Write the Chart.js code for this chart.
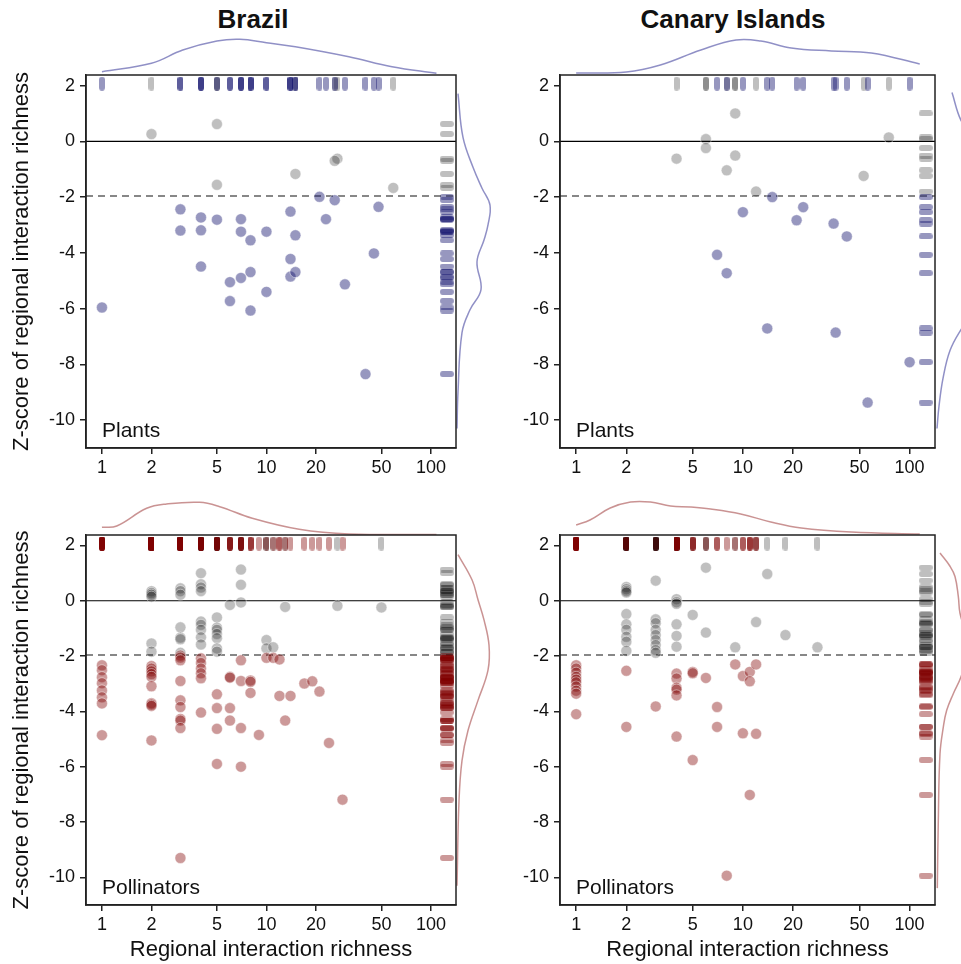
<!DOCTYPE html>
<html>
<head>
<meta charset="utf-8">
<script src="https://cdn.jsdelivr.net/npm/chart.js@4.4.0/dist/chart.umd.min.js"></script>
<style>
  html, body { margin: 0; padding: 0; background: #fff; overflow: hidden; }
  body { width: 961px; height: 964px; position: relative; font-family: "Liberation Sans", Arial, sans-serif; }
  canvas { position: absolute; }
  .title { position: absolute; top: 4px; font-weight: bold; font-size: 26px; color: #111; transform: translateX(-50%); white-space: nowrap; }
</style>
</head>
<body>
<div class="title" style="left:253px">Brazil</div>
<div class="title" style="left:733px">Canary Islands</div>
<script>
// ticks
const X_TICKS = [1, 2, 5, 10, 20, 50, 100];
const Y_TICKS = [2, 0, -2, -4, -6, -8, -10];
const Z_CRIT = -1.96;

// Brazil - plants
const brPlantRich = [2, 5, 27, 26, 15, 5, 59,
  21, 26, 48, 3, 4, 5, 7, 14, 23, 3, 4, 7, 10, 8, 15, 45, 14, 4, 8, 7, 6, 14, 15, 30, 10, 6, 8, 1, 40];
const brPlantZ = [0.26, 0.62, -0.62, -0.70, -1.17, -1.56, -1.67,
  -1.99, -2.11, -2.35, -2.44, -2.73, -2.81, -2.79, -2.52, -2.79, -3.2, -3.19, -3.24, -3.24, -3.55, -3.37, -4.02, -4.22,
  -4.49, -4.69, -4.9, -5.05, -4.85, -4.69, -5.13, -5.4, -5.73, -6.07, -5.96, -8.35];

// Canary Islands - plants
const ciPlantRich = [9, 6, 6, 4, 9, 8, 53, 75, 12,
  15, 23, 10, 21, 35, 42, 7, 8, 14, 36, 100, 56];
const ciPlantZ = [1.0, 0.08, -0.24, -0.62, -0.51, -1.04, -1.24, 0.14, -1.8,
  -2.0, -2.36, -2.54, -2.83, -2.95, -3.41, -4.07, -4.73, -6.71, -6.86, -7.92, -9.37];

// Brazil - pollinators
const brPollRich = [
  2, 2, 2, 2, 2, 2,
  3, 3, 3, 3, 3, 3, 3,
  4, 4, 4, 4, 4, 4, 4, 4, 4,
  5, 5, 5, 5, 5, 5, 5,
  6, 7, 7, 7, 10, 10, 11, 13, 27, 50,
  1, 1, 1, 1, 1, 1, 1, 1,
  2, 2, 2, 2, 2, 2, 2, 2, 2, 2,
  3, 3, 3, 3, 3, 3, 3, 3, 3, 3,
  4, 4, 4, 4, 4, 4,
  5, 5, 5, 5,
  6, 6, 6, 6,
  7, 7, 7, 7,
  8, 8, 8, 9, 10, 11, 12, 12, 13, 14, 17, 19, 21, 24, 29];
const brPollZ = [
  0.35, 0.28, 0.22, 0.15, -1.54, -1.84,
  0.45, 0.35, 0.22, -0.96, -1.33, -1.39, -1.88,
  1.0, 0.6, 0.48, 0.35, -0.75, -0.87, -1.05, -1.32, -1.58,
  -0.6, -0.97, -1.05, -1.2, -1.35, -1.72, -1.84,
  -0.15, 1.13, 0.58, -0.06, -1.42, -1.72, -1.68, -0.22, -0.18, -0.24,
  -2.33, -2.51, -2.76, -2.98, -3.24, -3.49, -3.71, -4.86,
  -2.36, -2.45, -2.55, -2.65, -2.75, -3.09, -3.7, -3.75, -3.8, -5.05,
  -1.98, -2.05, -2.15, -2.9, -3.6, -3.84, -4.27, -4.33, -4.6, -9.3,
  -2.08, -2.25, -2.45, -2.62, -2.8, -4.04,
  -3.38, -3.88, -4.63, -5.9,
  -2.75, -2.78, -3.88, -4.33,
  -2.15, -2.9, -4.6, -6.0,
  -2.88, -2.93, -3.33, -4.85, -2.06, -2.06, -2.12, -3.44, -4.33, -3.44, -2.99, -2.91, -3.28, -5.14, -7.19];

// Canary Islands - pollinators
const ciPollRich = [
  2, 2, 2, 2, 2, 2, 2, 2, 2, 2,
  3, 3, 3, 3, 3, 3, 3, 3, 3,
  4, 4, 4, 4, 4, 4,
  5, 6, 6, 9, 12, 14, 18, 28,
  1, 1, 1, 1, 1, 1, 1, 1, 1, 1,
  2, 2, 3,
  4, 4, 4, 4, 4, 4,
  5, 5, 5, 6, 7, 7, 8, 9, 10, 10, 11, 11, 11, 12, 12];
const ciPollZ = [
  0.5, 0.42, 0.35, 0.3, -0.48, -0.85, -1.05, -1.3, -1.48, -1.81,
  0.73, -0.67, -0.81, -1.05, -1.24, -1.42, -1.6, -1.78, -1.88,
  0.06, -0.05, -0.11, -0.85, -1.27, -1.66,
  -0.51, 1.2, -1.15, -1.68, -0.77, 0.97, -1.24, -1.68,
  -2.33, -2.45, -2.6, -2.75, -2.85, -2.95, -3.1, -3.25, -3.36, -4.1,
  -2.53, -4.56, -3.82,
  -2.63, -2.81, -3.14, -3.21, -3.42, -4.91,
  -2.57, -2.62, -5.76, -2.79, -3.84, -4.56, -9.94, -2.3, -2.72, -4.79, -2.57, -2.91, -7.02, -2.3, -4.81];

// marginal densities
const brPlantTopX = [1, 2, 3.1, 5, 6.9, 10, 15, 31.7, 58, 108];
const brPlantTopD = [0.033, 0.117, 0.25, 0.34, 0.357, 0.323, 0.283, 0.183, 0.083, 0.017];
const brPlantSideZ = [1.71, 0.14, -0.93, -1.68, -2.29, -3.0, -3.54, -4.32, -5.32, -6.04, -6.86, -9.0, -10.3];
const brPlantSideD = [0.02, 0.07, 0.17, 0.26, 0.34, 0.32, 0.28, 0.21, 0.25, 0.14, 0.06, 0.02, 0.01];

const ciPlantTopX = [1, 2, 3.2, 5.6, 9.1, 12.8, 19.5, 33.9, 58.9, 115];
const ciPlantTopD = [0.02, 0.03, 0.10, 0.25, 0.35, 0.34, 0.27, 0.24, 0.22, 0.11];
const ciPlantSideZ = [1.75, 0.75, 0, -2, -4, -6, -6.75, -7.5, -8.5, -9.5, -10.3];
const ciPlantSideD = [0.17, 0.26, 0.40, 0.55, 0.50, 0.40, 0.26, 0.15, 0.08, 0.04, 0.02];

const brPollTopX = [1, 1.23, 1.87, 2.47, 3.93, 5.2, 8.2, 15.8, 31.8, 108];
const brPollTopD = [0.077, 0.09, 0.267, 0.31, 0.327, 0.283, 0.167, 0.057, 0.01, 0.005];
const brPollSideZ = [1.67, 0.76, 0.04, -0.69, -1.6, -2.51, -3.6, -4.69, -5.78, -7.24, -10.3];
const brPollSideD = [0.02, 0.16, 0.22, 0.28, 0.33, 0.32, 0.22, 0.12, 0.06, 0.03, 0.01];

const ciPollTopX = [1, 1.21, 1.6, 2.12, 2.79, 3.68, 4.86, 6.4, 9.7, 14.7, 22.4, 44.8, 115];
const ciPollTopD = [0.10, 0.15, 0.27, 0.33, 0.33, 0.29, 0.28, 0.26, 0.21, 0.13, 0.07, 0.03, 0.01];
const ciPollSideZ = [1.73, 1.25, 0.88, 0.16, -0.45, -1.7, -2.75, -3.36, -3.96, -4.57, -5.53, -7.96, -10.39];
const ciPollSideD = [0.05, 0.15, 0.20, 0.233, 0.25, 0.34, 0.26, 0.183, 0.117, 0.083, 0.05, 0.033, 0.023];

Chart.defaults.font.family = "'Liberation Sans', Arial, Helvetica, sans-serif";
Chart.defaults.color = '#111';

const X_MIN = 0.8, X_MAX = 142;
const Y_MIN = -11, Y_MAX = 2.38;
const RUG_TOP = 2.07, RUG_RIGHT = 125;

const COL = {
  plants: 'rgba(25,25,112,0.45)',
  poll: 'rgba(128,0,0,0.4)',
  ns: 'rgba(0,0,0,0.25)',
  plantsLine: 'rgba(70,70,160,0.6)',
  pollLine: 'rgba(150,40,40,0.5)'
};

const panels = [
  { id: 'brPlants', rich: brPlantRich, z: brPlantZ, col: COL.plants, line: COL.plantsLine, label: 'Plants',
    frame: {l: 86, t: 75, r: 456, b: 448}, box: {x: 0, y: 70, w: 462, h: 410}, yTitle: true, xTitle: false,
    topX: brPlantTopX, topD: brPlantTopD, sideZ: brPlantSideZ, sideD: brPlantSideD },
  { id: 'ciPlants', rich: ciPlantRich, z: ciPlantZ, col: COL.plants, line: COL.plantsLine, label: 'Plants',
    frame: {l: 560, t: 75, r: 935, b: 448}, box: {x: 500, y: 70, w: 441, h: 410}, yTitle: false, xTitle: false,
    topX: ciPlantTopX, topD: ciPlantTopD, sideZ: ciPlantSideZ, sideD: ciPlantSideD },
  { id: 'brPoll', rich: brPollRich, z: brPollZ, col: COL.poll, line: COL.pollLine, label: 'Pollinators',
    frame: {l: 86, t: 535, r: 456, b: 905}, box: {x: 0, y: 530, w: 462, h: 434}, yTitle: true, xTitle: true,
    topX: brPollTopX, topD: brPollTopD, sideZ: brPollSideZ, sideD: brPollSideD },
  { id: 'ciPoll', rich: ciPollRich, z: ciPollZ, col: COL.poll, line: COL.pollLine, label: 'Pollinators',
    frame: {l: 560, t: 535, r: 935, b: 905}, box: {x: 500, y: 530, w: 441, h: 434}, yTitle: false, xTitle: true,
    topX: ciPollTopX, topD: ciPollTopD, sideZ: ciPollSideZ, sideD: ciPollSideD }
];

function addCanvas(id, x, y, w, h) {
  const c = document.createElement('canvas');
  c.id = id; c.width = w; c.height = h;
  c.style.left = x + 'px'; c.style.top = y + 'px';
  c.style.width = w + 'px'; c.style.height = h + 'px';
  document.body.appendChild(c);
  return c;
}

// rounded rug tick used as a point style (drawn vertical, rotated by Chart.js)
function capsule(color) {
  const c = document.createElement('canvas');
  c.width = 6; c.height = 14;
  const g = c.getContext('2d');
  g.fillStyle = color;
  g.beginPath();
  g.roundRect(0, 0, 6, 14, 3);
  g.fill();
  return c;
}

// box around the plot + panel name
const framePlugin = {
  id: 'frame',
  afterDraw(chart, args, opts) {
    const {ctx, chartArea: a} = chart;
    ctx.save();
    ctx.strokeStyle = '#222';
    ctx.lineWidth = 1.5;
    ctx.strokeRect(a.left, a.top, a.right - a.left, a.bottom - a.top);
    ctx.font = "21px 'Liberation Sans', Arial, sans-serif";
    ctx.fillStyle = '#111';
    ctx.fillText(opts.text, a.left + 16, a.bottom - 11);
    ctx.restore();
  }
};

function makeScatter(p) {
  const cv = addCanvas(p.id, p.box.x, p.box.y, p.box.w, p.box.h);
  const pts = p.rich.map((x, i) => ({x: x, y: p.z[i]}));
  const sig = pts.filter(d => d.y < Z_CRIT);
  const ns = pts.filter(d => d.y >= Z_CRIT);
  const rug = (arr, col, top) => ({
    data: arr.map(d => top ? {x: d.x, y: RUG_TOP} : {x: RUG_RIGHT, y: d.y}),
    pointStyle: capsule(col), pointRotation: top ? 0 : 90,
    pointRadius: 7, borderColor: col, backgroundColor: col
  });
  const dot = (arr, col) => ({
    data: arr, pointRadius: 5.5, pointBorderWidth: 0.8,
    backgroundColor: col, borderColor: 'rgba(255,255,255,0.55)'
  });
  const hline = (y, dash) => ({
    data: [{x: X_MIN, y: y}, {x: X_MAX, y: y}], showLine: true, pointRadius: 0,
    borderColor: dash ? '#111' : '#000', borderWidth: 1.1, borderDash: dash ? [7, 5] : []
  });

  new Chart(cv, {
    type: 'scatter',
    data: {
      datasets: [
        dot(sig, p.col), dot(ns, COL.ns),
        rug(sig, p.col, true), rug(ns, COL.ns, true),
        rug(sig, p.col, false), rug(ns, COL.ns, false),
        hline(0, false), hline(Z_CRIT, true)
      ]
    },
    options: {
      responsive: false,
      animation: false,
      events: [],
      layout: {
        autoPadding: false,
        padding: { top: p.frame.t - p.box.y, right: p.box.x + p.box.w - p.frame.r, left: 0, bottom: 0 }
      },
      plugins: { legend: { display: false }, tooltip: { enabled: false }, frame: { text: p.label } },
      scales: {
        x: {
          type: 'logarithmic', min: X_MIN, max: X_MAX,
          afterBuildTicks: s => { s.ticks = X_TICKS.map(v => ({value: v})); },
          afterFit: s => {
            s.height = p.box.y + p.box.h - p.frame.b;
            s.paddingLeft = 0; s.paddingRight = 0;
          },
          ticks: { font: { size: 18 }, color: '#111', padding: 3, autoSkip: false, maxRotation: 0,
                   callback: v => String(v) },
          grid: { drawOnChartArea: false, tickLength: 6, color: '#222', lineWidth: 1.5 },
          border: { color: '#222', width: 1.5 },
          title: { display: p.xTitle, text: 'Regional interaction richness', font: { size: 22 },
                   color: '#111', padding: { top: 4, bottom: 1 } }
        },
        y: {
          type: 'linear', min: Y_MIN, max: Y_MAX,
          afterBuildTicks: s => { s.ticks = Y_TICKS.map(v => ({value: v})); },
          afterFit: s => {
            s.width = p.frame.l - p.box.x;
            s.paddingTop = 0; s.paddingBottom = 0;
          },
          ticks: { font: { size: 18 }, color: '#111', padding: 5, callback: v => String(v) },
          grid: { drawOnChartArea: false, tickLength: 6, color: '#222', lineWidth: 1.5 },
          border: { color: '#222', width: 1.5 },
          title: { display: p.yTitle, text: 'Z-score of regional interaction richness', font: { size: 22 },
                   color: '#111', padding: { top: 9, bottom: 0 } }
        }
      }
    },
    plugins: [framePlugin]
  });
}

function makeTopDensity(p) {
  const h = 45;
  const cv = addCanvas(p.id + 'Top', p.frame.l, p.frame.t - h, p.frame.r - p.frame.l, h);
  new Chart(cv, {
    type: 'scatter',
    data: { datasets: [{
      data: p.topX.map((x, i) => ({x: x, y: p.topD[i]})),
      showLine: true, pointRadius: 0, borderColor: p.line, borderWidth: 1.5, tension: 0.4, clip: false
    }] },
    options: {
      responsive: false, animation: false, events: [],
      layout: { padding: 0, autoPadding: false },
      plugins: { legend: { display: false }, tooltip: { enabled: false } },
      scales: {
        x: { type: 'logarithmic', min: X_MIN, max: X_MAX, display: false },
        y: { type: 'linear', min: 0, max: 0.45, display: false }
      }
    }
  });
}

function makeSideDensity(p) {
  const w = 60;
  const cv = addCanvas(p.id + 'Side', p.frame.r, p.frame.t, w, p.frame.b - p.frame.t);
  new Chart(cv, {
    type: 'scatter',
    data: { datasets: [{
      data: p.sideZ.map((z, i) => ({x: p.sideD[i], y: z})),
      showLine: true, pointRadius: 0, borderColor: p.line, borderWidth: 1.5, tension: 0.4, clip: false
    }] },
    options: {
      responsive: false, animation: false, events: [],
      layout: { padding: 0, autoPadding: false },
      plugins: { legend: { display: false }, tooltip: { enabled: false } },
      scales: {
        x: { type: 'linear', min: 0, max: 0.6, display: false },
        y: { type: 'linear', min: Y_MIN, max: Y_MAX, display: false }
      }
    }
  });
}

panels.forEach(p => {
  makeTopDensity(p);
  makeSideDensity(p);
  makeScatter(p);
});
</script>
</body>
</html>
